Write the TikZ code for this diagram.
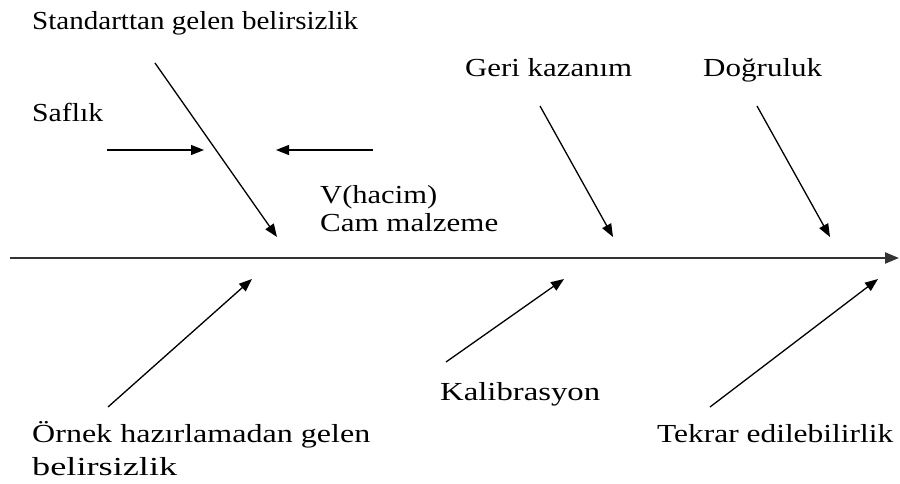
\documentclass[tikz,border=0pt]{standalone}
\usepackage{fontspec}
\setmainfont{Liberation Serif}
\usetikzlibrary{arrows.meta}
\newcommand{\fitw}[2]{\resizebox{#1pt}{\height}{#2}}
\begin{document}
\begin{tikzpicture}[x=1pt,y=-1pt,
  lbl/.style={anchor=base west,inner sep=0pt,font=\fontsize{26}{30}\selectfont},
  arr/.style={draw=black,line width=1.3pt,-{Triangle[length=13pt,width=10pt]}},
  spine/.style={draw=black!80,line width=2.2pt,-{Triangle[length=14pt,width=11pt]}}]
\useasboundingbox (0,0) rectangle (900,484);
% labels
\node[lbl] (std) at (32,30) {\fitw{326}{Standarttan gelen belirsizlik}};
\node[lbl] (saf) at (32,122) {\fitw{71}{Saflık}};
\node[lbl] (vh) at (320,204) {\fitw{117}{V(hacim)}};
\node[lbl] (cam) at (320,231) {\fitw{178}{Cam malzeme}};
\node[lbl] (geri) at (465,77) {\fitw{167}{Geri kazanım}};
\node[lbl] (dog) at (703,77) {\fitw{119}{Doğruluk}};
\node[lbl] (orn1) at (32,442) {\fitw{338}{Örnek hazırlamadan gelen}};
\node[lbl] (orn2) at (32,475) {\fitw{145}{belirsizlik}};
\node[lbl] (kal) at (440,400) {\fitw{160}{Kalibrasyon}};
\node[lbl] (tek) at (657,442) {\fitw{236}{Tekrar edilebilirlik}};
% arrow end points
\coordinate (s0) at (10,258);   \coordinate (s1) at (899,258);
\coordinate (a0) at (155,63);   \coordinate (a1) at (277,237);
\coordinate (b0) at (107,150);  \coordinate (b1) at (204,150);
\coordinate (c0) at (373,150);  \coordinate (c1) at (276,150);
\coordinate (d0) at (540,106);  \coordinate (d1) at (613,237);
\coordinate (e0) at (757,106);  \coordinate (e1) at (830,237);
\coordinate (f0) at (108,407);  \coordinate (f1) at (252,279);
\coordinate (g0) at (446,362);  \coordinate (g1) at (564,279);
\coordinate (h0) at (710,407);  \coordinate (h1) at (878,279);
% connectors
\draw[spine] (s0) -- (s1);
\draw[arr] (a0) -- (a1);
\draw[arr] (b0) -- (b1);
\draw[arr] (c0) -- (c1);
\draw[arr] (d0) -- (d1);
\draw[arr] (e0) -- (e1);
\draw[arr] (f0) -- (f1);
\draw[arr] (g0) -- (g1);
\draw[arr] (h0) -- (h1);
\end{tikzpicture}
\end{document}
